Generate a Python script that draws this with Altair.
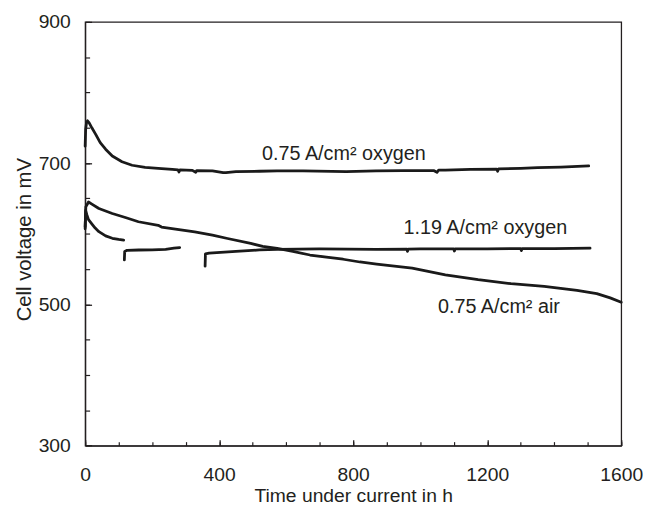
import altair as alt
import pandas as pd

# ---- data ----
# 0.75 A/cm2 oxygen
t_o75 = [0, 1.5, 4, 7, 12, 20, 31.5, 45, 61, 81, 110, 140, 179, 218, 260, 277, 280, 283,
         320, 330, 333, 380, 412, 420, 450, 520, 573, 650, 779, 868, 950, 1000, 1040, 1050,
         1055, 1075, 1150, 1228, 1231, 1234, 1300, 1350, 1420, 1503]
v_o75 = [724, 748, 757, 760, 757, 750, 740.7, 729, 719.7, 710, 702, 697, 694, 692.6, 691, 690.5, 687.5, 690.5,
         689.8, 687, 689.5, 689, 686.5, 686.6, 688, 688.5, 689, 689, 688, 689, 689.5, 689.5, 689.5, 687,
         690, 690, 691, 691.5, 688.5, 692, 692.7, 693.5, 694.5, 696]

# 0.75 A/cm2 air
t_air = [0, 2, 10, 20, 41, 81, 120, 150, 159, 218, 228, 280, 327, 380, 425, 494, 530, 573, 620,
         671, 720, 770, 820, 870, 976, 1075, 1173, 1271, 1370, 1468, 1527, 1567, 1600]
v_air = [610, 638, 645, 642, 635.7, 628.7, 623, 618.4, 617, 612, 609.5, 606, 602.5, 598, 593.3, 586.3, 582, 579.3, 575,
         569.9, 567, 563.9, 560, 557, 551.3, 541.9, 534.9, 529.3, 525.5, 519.9, 515.3, 509.2, 503]

# 1.19 A/cm2 oxygen (three segments)
t_o119a = [0, 1.5, 5, 10, 21.6, 30, 41, 61, 81, 100, 115]
v_o119a = [607, 633, 627, 620, 613, 608, 603, 597, 593.6, 592, 591]
t_o119b = [117, 118, 125, 160, 200, 240, 265, 282]
v_o119b = [563, 575, 576.5, 577, 577.3, 578, 579.5, 580.5]
t_o119c = [358, 359, 370, 450, 520, 573, 700, 868, 960, 962, 964, 1000, 1100, 1102, 1104, 1200, 1300, 1302, 1304, 1400, 1507]
v_o119c = [554, 571.5, 572.5, 575, 577, 578, 578.5, 578, 578.3, 575, 578.3, 578.5, 578.5, 575.5, 578.5, 578.5, 579, 576, 579, 579, 579.5]

# annotations
ann_text = ["0.75 A/cm² oxygen", "1.19 A/cm² oxygen", "0.75 A/cm² air"]
ann_t = [528, 950, 1053]
ann_v = [704, 600, 487.5]

x_labels = [0, 400, 800, 1200, 1600]
x_minor = list(range(0, 1700, 100))
y_labels = [300, 500, 700, 900]
y_minor = list(range(300, 950, 50))

rows = []
for name, ts, vs in [("o75", t_o75, v_o75), ("air", t_air, v_air),
                     ("o119a", t_o119a, v_o119a), ("o119b", t_o119b, v_o119b),
                     ("o119c", t_o119c, v_o119c)]:
    for t, v in zip(ts, vs):
        rows.append({"series": name, "t": t, "v": v})
df = pd.DataFrame(rows)
ann = pd.DataFrame({"label": ann_text, "t": ann_t, "v": ann_v})

W, H = 542, 428.4
INK = "#231f20"
FONT = "Liberation Sans"
xscale = alt.Scale(domain=[0, 1600], nice=False, zero=False)
yscale = alt.Scale(domain=[300, 900], nice=False, zero=False)

base = alt.Chart(df)

lines = base.mark_line(color="#1a1a1a", strokeWidth=2.8, strokeJoin="round", strokeCap="round").encode(
    x=alt.X("t:Q", scale=xscale, axis=alt.Axis(
        values=x_labels, format="d", ticks=False, tickSize=0, labelPadding=19.8, labelFontSize=19.5,
        labelFlush=False, labelOverlap=False,
        labelFont=FONT, labelColor=INK, domainColor=INK, domainWidth=1.3, grid=False,
        title="Time under current in h", titleFont=FONT, titleFontSize=19.5, titleFontWeight="normal",
        titleColor=INK, titleBaseline="alphabetic", titleY=56.5, titleX=W / 2, titleAlign="center")),
    y=alt.Y("v:Q", scale=yscale, axis=alt.Axis(
        values=y_labels, format="d", ticks=False, tickSize=0, labelPadding=15, labelFontSize=19.5,
        labelFlush=False, labelOverlap=False,
        labelFont=FONT, labelColor=INK, domainColor=INK, domainWidth=1.3, grid=False,
        title="Cell voltage in mV", titleFont=FONT, titleFontSize=20.5, titleFontWeight="normal",
        titleColor=INK, titleAngle=270, titleBaseline="alphabetic", titleAlign="center",
        titleX=-55, titleY=219.7)),
    detail="series:N",
)

minor = base.mark_line(opacity=0).encode(
    x=alt.X("t:Q", scale=xscale, axis=alt.Axis(
        orient="top", offset=-H, values=x_minor, labels=False, domain=False, grid=False,
        tickSize=4, tickWidth=1.2, tickColor=INK, title=None)),
    y=alt.Y("v:Q", scale=yscale, axis=alt.Axis(
        orient="right", offset=-W, values=y_minor, labels=False, domain=False, grid=False,
        tickSize=4.5, tickWidth=1.2, tickColor=INK, title=None)),
    detail="series:N",
)

major = base.mark_line(opacity=0).encode(
    x=alt.X("t:Q", scale=xscale, axis=alt.Axis(
        orient="top", offset=-H, values=x_labels, labels=False, domain=False, grid=False,
        tickSize=6, tickWidth=1.3, tickColor=INK, title=None)),
    y=alt.Y("v:Q", scale=yscale, axis=alt.Axis(
        orient="right", offset=-W, values=y_labels, labels=False, domain=False, grid=False,
        tickSize=6.5, tickWidth=1.3, tickColor=INK, title=None)),
    detail="series:N",
)

labels = alt.Chart(ann).mark_text(align="left", baseline="alphabetic", fontSize=20,
                                  font=FONT, color=INK).encode(
    x=alt.X("t:Q", scale=xscale, axis=None),
    y=alt.Y("v:Q", scale=yscale, axis=None),
    text="label:N",
)

chart = alt.layer(lines, minor, major, labels).resolve_axis(
    x="independent", y="independent"
).properties(
    width=W, height=H,
    autosize=alt.AutoSizeParams(type="none"),
    padding={"left": 78, "top": 11.3, "right": 22, "bottom": 58},
).configure_view(stroke=INK, strokeWidth=1.3)

chart.save("out.html", embed_options={"renderer": "svg", "actions": False})
